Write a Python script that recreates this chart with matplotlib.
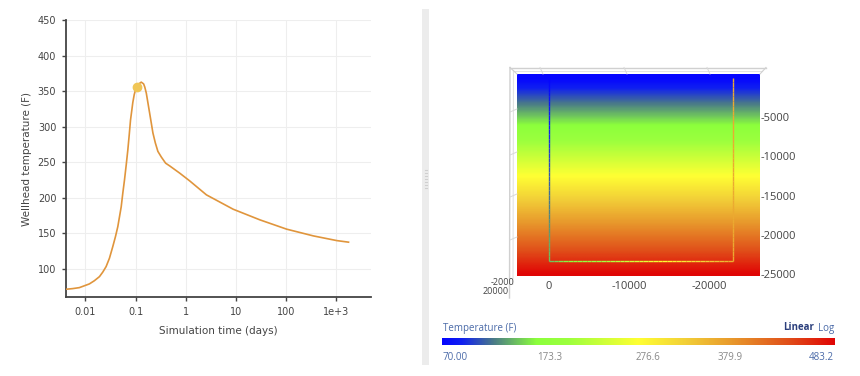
import numpy as np
import matplotlib.pyplot as plt
from matplotlib.colors import LinearSegmentedColormap, Normalize
from matplotlib.collections import LineCollection

# wellhead temperature history
time_days = [0.00423, 0.00557, 0.00759, 0.0120, 0.0151, 0.0191, 0.0222, 0.0259, 0.0302,
             0.0352, 0.0398, 0.0443, 0.0479, 0.0518, 0.0557, 0.0603, 0.0652, 0.0702,
             0.0748, 0.0794, 0.0843, 0.0883, 0.0942, 0.100, 0.116, 0.130, 0.145, 0.153,
             0.164, 0.176, 0.191, 0.206, 0.222, 0.248, 0.279, 0.327, 0.398, 0.479,
             0.759, 1.20, 2.59, 8.83, 30.2, 103, 352, 1033, 1762]
wellhead_temp = [71.0, 71.8, 73.2, 78.4, 82.9, 88.7, 95, 102.8, 114.6,
                 131, 145, 159, 173, 187, 206, 225, 246, 267,
                 288, 309, 323, 334, 345, 351.7, 360, 362.5, 360, 355.5,
                 347, 334, 319, 305, 291, 277, 265, 257, 248.4, 244.6,
                 234.4, 223.5, 203.8, 183.6, 168.6, 155.5, 146, 139.4, 137.2]
marker_time = 0.108
marker_temp = 356.3

x_ticks = [0.01, 0.1, 1, 10, 100, 1000]
x_tick_labels = ['0.01', '0.1', '1', '10', '100', '1e+3']
y_ticks = [100, 150, 200, 250, 300, 350, 400, 450]

# formation temperature vs depth and well path (3D view seen from the side)
depth_ft = [0, 25000]
formation_temp = [70.0, 483.2]
well_x = [0, 0, -23000, -23000]
well_z = [0, -23300, -23300, 0]
well_temp = [70, 150, 360, 360]
z_ticks = [-5000, -10000, -15000, -20000, -25000]
h_ticks = [0, -10000, -20000]
cbar_labels = ['70.00', '173.3', '276.6', '379.9', '483.2']

W, H = 860, 376
fig = plt.figure(figsize=(W / 100, H / 100), dpi=100)


def px_axes(x0, y0, x1, y1):
    return fig.add_axes([x0 / W, 1 - y1 / H, (x1 - x0) / W, (y1 - y0) / H])


# ---- left: wellhead temperature ----
ax = px_axes(66, 20, 371, 297)
ax.plot(time_days, wellhead_temp, color='#e0953c', lw=1.2, zorder=3)
ax.plot([marker_time], [marker_temp], 'o', color='#f0c656', ms=6, zorder=4)
ax.set_xscale('log')
ax.set_xlim(0.00411, 4943)
ax.set_ylim(60, 450)
ax.set_xticks(x_ticks)
ax.set_xticklabels(x_tick_labels)
ax.set_yticks(y_ticks)
ax.minorticks_off()
ax.grid(True, color='#eeeeee', lw=0.8)
for s in ['top', 'right']:
    ax.spines[s].set_visible(False)
for s in ['left', 'bottom']:
    ax.spines[s].set_color('#444444')
    ax.spines[s].set_linewidth(1.3)
ax.tick_params(direction='out', length=3, width=1, color='#444444',
               labelsize=7, labelcolor='#444444', pad=4)
ax.set_xlabel('Simulation time (days)', fontsize=7.5, color='#444444', labelpad=7)
ax.set_ylabel('Wellhead temperature (F)', fontsize=7.5, color='#444444', labelpad=4)

# ---- right: 3D temperature section ----
cmap = LinearSegmentedColormap.from_list('temp', [
    (0.0, '#0505ff'), (0.05, '#1020f0'), (0.13, '#4a7a88'), (0.24, '#8cff3c'),
    (0.32, '#9cff3e'), (0.5, '#ffff33'), (0.62, '#f2cf38'), (0.74, '#e8982c'),
    (0.88, '#e0501a'), (1.0, '#e00505')])
norm = Normalize(vmin=formation_temp[0], vmax=formation_temp[-1])

ax2 = px_axes(517, 74, 760, 276)
xlim = (4000, -26375)
ylim = (-25229, 470)
zz = np.linspace(ylim[1], ylim[0], 300)
tgrid = np.interp(-zz, depth_ft, formation_temp)
ax2.imshow(tgrid[:, None], cmap=cmap, norm=norm, aspect='auto',
           extent=(xlim[0], xlim[1], ylim[0], ylim[1]), interpolation='bilinear')

# well path coloured by temperature
pts_x, pts_z, pts_t = [], [], []
for i in range(len(well_x) - 1):
    s = np.linspace(0, 1, 40)
    pts_x += list(well_x[i] + (well_x[i + 1] - well_x[i]) * s)
    pts_z += list(well_z[i] + (well_z[i + 1] - well_z[i]) * s)
    pts_t += list(well_temp[i] + (well_temp[i + 1] - well_temp[i]) * s)
pts = np.column_stack([pts_x, pts_z])
segs = np.stack([pts[:-1], pts[1:]], axis=1)
lc = LineCollection(segs, cmap=cmap, norm=norm, linewidths=1.0)
lc.set_array(np.array(pts_t[:-1]))
ax2.add_collection(lc)

ax2.set_xlim(*xlim)
ax2.set_ylim(*ylim)
for s in ax2.spines.values():
    s.set_visible(False)
ax2.yaxis.tick_right()
ax2.set_yticks(z_ticks)
ax2.set_yticklabels([str(v) for v in z_ticks])
ax2.set_xticks(h_ticks)
ax2.set_xticklabels([str(v) for v in h_ticks])
ax2.tick_params(length=0, labelsize=8, labelcolor='#444444')
ax2.tick_params(axis='y', pad=0.5)
ax2.tick_params(axis='x', pad=3.5)
for lab in ax2.get_xticklabels() + ax2.get_yticklabels():
    lab.set_family('Open Sans')

# ---- colorbar ----
cax = px_axes(442, 338, 834, 345)
cax.imshow(np.linspace(0, 1, 256)[None, :], cmap=cmap, aspect='auto')
cax.set_axis_off()

# ---- overlay: panel divider, 3D frame and plain texts ----
ov = fig.add_axes([0, 0, 1, 1], zorder=-1)
ov.set_xlim(0, W)
ov.set_ylim(H, 0)
ov.set_axis_off()
ov.add_patch(plt.Rectangle((422, 9), 7, 356, color='#ececec', lw=0))
for yy in range(170, 190, 3):
    ov.plot([424.5, 426.5], [yy, yy], color='#cfcfcf', lw=0.8)

ov2 = fig.add_axes([0, 0, 1, 1], zorder=3)
ov2.set_xlim(0, W)
ov2.set_ylim(H, 0)
ov2.set_axis_off()
fc = '#d0d0d0'
ov2.plot([510, 766], [67.5, 67.5], color=fc, lw=1.0)
ov2.plot([514, 762], [70.5, 70.5], color='#e2e2e2', lw=0.8)
ov2.plot([766, 760], [67.5, 74], color=fc, lw=0.8)
ov2.plot([510, 509.5], [67.5, 298], color=fc, lw=1.0)
ov2.plot([513.5, 513], [70.5, 284], color='#e2e2e2', lw=0.8)
ov2.plot([510, 517], [67.5, 74], color=fc, lw=0.8)
for xx in [543, 627, 710]:
    ov2.plot([xx - 3, xx], [67.5, 74], color='#d8d8d8', lw=0.7)
for yy in [112, 155, 197, 240]:
    ov2.plot([510, 517], [yy, yy - 3], color='#d8d8d8', lw=0.7)

# cramped depth-axis labels of the 3D view
tk = dict(fontsize=6.5, color='#444444', family='Open Sans', ha='center', va='center')
ov2.text(503, 282.5, '-2000', **tk)
ov2.text(496, 292, '20000', **tk)

blue = '#4a6aa8'
ov2.text(443, 328, 'Temperature (F)', fontsize=7, color=blue, family='Open Sans',
         ha='left', va='center')
ov2.text(814, 328, 'Linear', fontsize=7, color='#2b3f7c', family='Open Sans',
         fontweight='bold', ha='right', va='center')
ov2.text(834, 328, 'Log', fontsize=7, color=blue, family='Open Sans', ha='right', va='center')
cb_pos = [(443, 'left', blue), (550, 'center', '#888888'), (648, 'center', '#888888'),
          (730, 'center', '#888888'), (834, 'right', blue)]
for (xx, ha, c), lab in zip(cb_pos, cbar_labels):
    ov2.text(xx, 357, lab, fontsize=7, color=c, family='Open Sans', ha=ha, va='center')

fig.savefig('out.png', dpi=100)
